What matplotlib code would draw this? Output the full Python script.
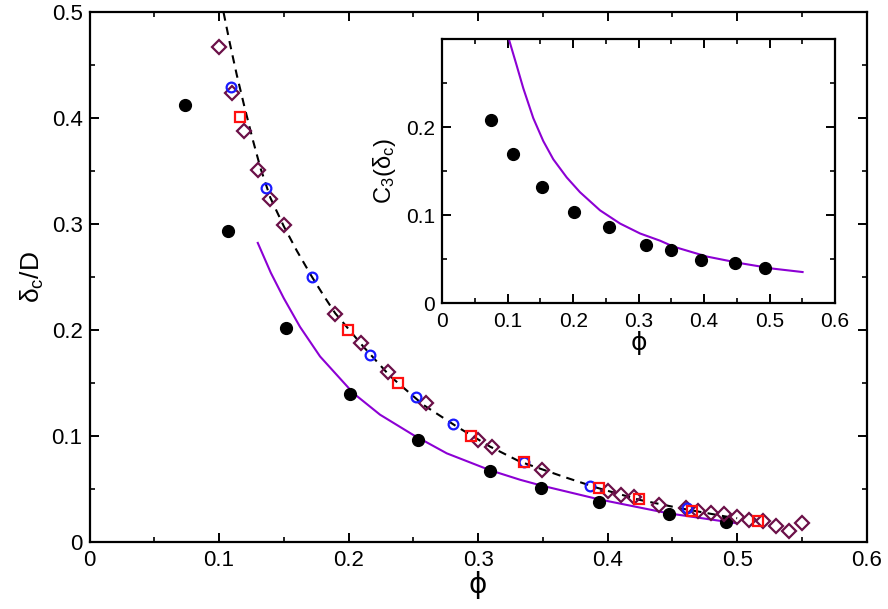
import numpy as np
import matplotlib
matplotlib.use("Agg")
import matplotlib.pyplot as plt
from matplotlib.ticker import MultipleLocator

plt.rcParams.update({
    "font.family": ["Liberation Sans", "DejaVu Sans"],
    "mathtext.default": "regular",
    "font.size": 16,
    "axes.linewidth": 1.6,
    "xtick.direction": "in",
    "ytick.direction": "in",
    "xtick.top": True,
    "ytick.right": True,
    "xtick.major.size": 6.5,
    "ytick.major.size": 6.5,
    "xtick.minor.size": 3.5,
    "ytick.minor.size": 3.5,
    "xtick.major.width": 1.4,
    "ytick.major.width": 1.4,
    "xtick.minor.width": 1.2,
    "ytick.minor.width": 1.2,
    "xtick.major.pad": 6,
    "ytick.major.pad": 5,
})

PURPLE = "#8c00d4"
MAROON = "#6b1048"

# main panel: filled black circles
phi_black = [0.0737, 0.1072, 0.1515, 0.2014, 0.2534, 0.3093, 0.3484, 0.3934, 0.4473, 0.4915]
delta_black = [0.4127, 0.2937, 0.202, 0.1396, 0.0961, 0.0668, 0.0505, 0.0375, 0.0259, 0.0183]

# open diamonds
phi_dia = [0.100, 0.1098, 0.1196, 0.1299, 0.1396, 0.150, 0.1898, 0.2099, 0.2305, 0.2598,
           0.2997, 0.3106, 0.3497, 0.4001, 0.4102, 0.420, 0.440, 0.4604, 0.4701, 0.480,
           0.4902, 0.4998, 0.5095, 0.5198, 0.5301, 0.5399, 0.5502]
delta_dia = [0.467, 0.4238, 0.388, 0.3513, 0.3236, 0.2993, 0.2152, 0.1875, 0.1601, 0.1308,
             0.0961, 0.0892, 0.0678, 0.0479, 0.0441, 0.0425, 0.0347, 0.0321, 0.0293, 0.0268,
             0.0259, 0.0231, 0.0205, 0.0198, 0.0151, 0.0104, 0.018]

# open squares
phi_sq = [0.1165, 0.1996, 0.2385, 0.2948, 0.3355, 0.3934, 0.4246, 0.465, 0.516]
delta_sq = [0.4008, 0.2001, 0.1503, 0.1000, 0.0753, 0.0505, 0.0403, 0.0293, 0.0196]

# open circles
phi_circ = [0.109, 0.1363, 0.1716, 0.2166, 0.2519, 0.2805, 0.3355, 0.3865, 0.4611]
delta_circ = [0.4295, 0.334, 0.2505, 0.1763, 0.1365, 0.111, 0.0756, 0.0526, 0.0316]

# dashed curve
phi_dash = [0.1035, 0.1085, 0.1137, 0.1196, 0.126, 0.132, 0.1396, 0.150, 0.160, 0.1716,
            0.1805, 0.1896, 0.2114, 0.232, 0.2578, 0.2836, 0.3093, 0.3324, 0.3659, 0.3917,
            0.4251, 0.456, 0.492, 0.500]
delta_dash = [0.500, 0.470, 0.441, 0.411, 0.380, 0.353, 0.325, 0.298, 0.275, 0.2505,
              0.233, 0.216, 0.1843, 0.1565, 0.1292, 0.1087, 0.0898, 0.0756, 0.0614, 0.051,
              0.0394, 0.0316, 0.0236, 0.0222]

# purple curve, main panel
phi_fit = [0.1299, 0.140, 0.150, 0.1625, 0.178, 0.2037, 0.2243, 0.250, 0.2758, 0.3093,
           0.3325, 0.3484, 0.3934, 0.447, 0.4998]
delta_fit = [0.2823, 0.254, 0.230, 0.203, 0.175, 0.1403, 0.120, 0.1008, 0.0835, 0.0675,
             0.0585, 0.0532, 0.040, 0.0268, 0.0174]

# inset: C3(delta_c)
phi_in = [0.074, 0.1086, 0.1525, 0.2019, 0.2544, 0.311, 0.349, 0.395, 0.448, 0.4934]
c3_in = [0.2079, 0.170, 0.1322, 0.104, 0.0872, 0.0666, 0.0607, 0.0494, 0.0456, 0.040]

phi_in_fit = [0.1025, 0.1137, 0.1239, 0.1391, 0.1544, 0.1697, 0.1902, 0.2105, 0.2411, 0.2717,
              0.3023, 0.3329, 0.3532, 0.4043, 0.4552, 0.5061, 0.5505]
c3_in_fit = [0.2984, 0.2703, 0.2442, 0.2104, 0.1843, 0.1636, 0.143, 0.1262, 0.1056, 0.0906,
             0.0793, 0.0711, 0.0644, 0.0531, 0.0456, 0.0393, 0.0355]

x_ticks = [0, 0.1, 0.2, 0.3, 0.4, 0.5, 0.6]
x_labels = ["0", "0.1", "0.2", "0.3", "0.4", "0.5", "0.6"]
y_ticks = [0, 0.1, 0.2, 0.3, 0.4, 0.5]
y_labels = ["0", "0.1", "0.2", "0.3", "0.4", "0.5"]
y_ticks_in = [0, 0.1, 0.2]
y_labels_in = ["0", "0.1", "0.2"]

fig = plt.figure(figsize=(8.88, 6.09), dpi=100)
ax = fig.add_axes([0.1008, 0.1105, 0.8752, 0.869])

ax.plot(phi_dash, delta_dash, color="black", linestyle=(0, (4, 3)), linewidth=1.5, zorder=2)
ax.plot(phi_fit, delta_fit, color=PURPLE, linewidth=1.5, zorder=2)
ax.plot(phi_black, delta_black, "o", color="black", markersize=8.5, zorder=3)
ax.plot(phi_dia, delta_dia, "D", mfc="none", mec=MAROON, mew=1.6, markersize=7, zorder=3)
ax.plot(phi_circ, delta_circ, "o", mfc="none", mec="#1a1aff", mew=1.6, markersize=7, zorder=4)
ax.plot(phi_sq, delta_sq, "s", mfc="none", mec="#ff1010", mew=1.6, markersize=6.5, zorder=4)

ax.set_xticks(x_ticks)
ax.set_xticklabels(x_labels)
ax.set_yticks(y_ticks)
ax.set_yticklabels(y_labels)
ax.xaxis.set_minor_locator(MultipleLocator(0.05))
ax.yaxis.set_minor_locator(MultipleLocator(0.05))
ax.set_xlim(0, 0.6)
ax.set_ylim(0, 0.5)
ax.set_xlabel("\u03d5", fontsize=20, labelpad=0, family=["DejaVu Sans"])
ax.set_ylabel(r"$\delta_c$/D", fontsize=19, labelpad=4)

# inset
axi = fig.add_axes([0.498, 0.502, 0.4423, 0.4335])
axi.plot(phi_in_fit, c3_in_fit, color=PURPLE, linewidth=1.5)
axi.plot(phi_in, c3_in, "o", color="black", markersize=8.5)
axi.set_xticks(x_ticks)
axi.set_xticklabels(x_labels)
axi.set_yticks(y_ticks_in)
axi.set_yticklabels(y_labels_in)
axi.xaxis.set_minor_locator(MultipleLocator(0.05))
axi.yaxis.set_minor_locator(MultipleLocator(0.05))
axi.set_xlim(0, 0.6)
axi.set_ylim(0, 0.3)
axi.tick_params(labelsize=15)
axi.set_xlabel("\u03d5", fontsize=18, labelpad=0, family=["DejaVu Sans"])
axi.set_ylabel(r"$C_3(\delta_c)$", fontsize=17, labelpad=6)

fig.savefig("out.png", dpi=100)
